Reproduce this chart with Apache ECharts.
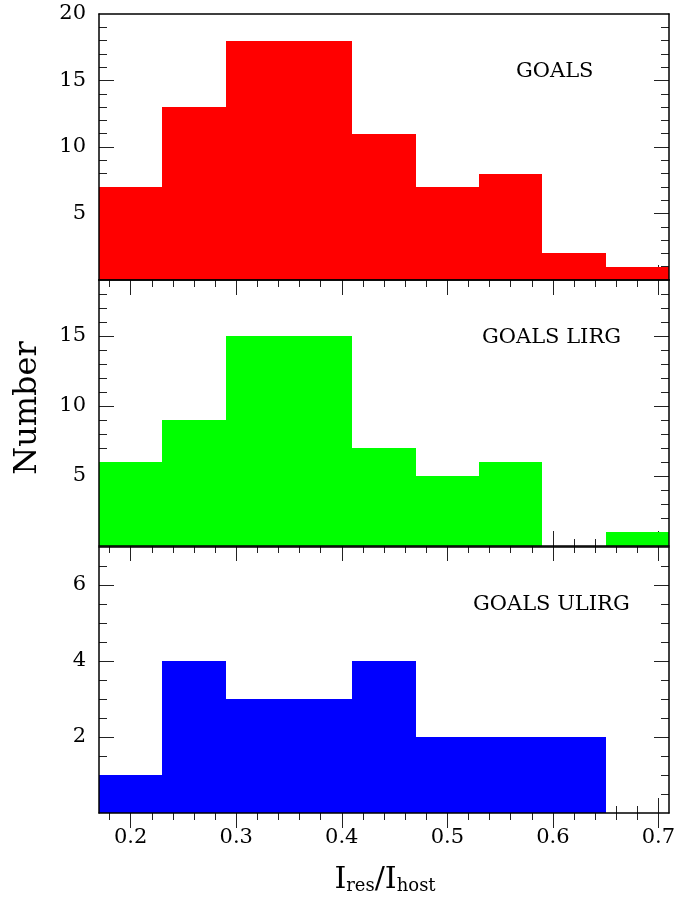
<!DOCTYPE html>
<html>
<head>
<meta charset="utf-8">
<script src="https://cdn.jsdelivr.net/npm/echarts@6/dist/echarts.min.js"></script>
<style>
  html, body { margin: 0; padding: 0; background: #fff; }
  #chart { width: 679px; height: 907px; }
</style>
</head>
<body>
<div id="chart"></div>
<script>
// Histogram bins of I_res / I_host (bin edges) and counts per sample
const binEdges = [0.17, 0.23, 0.29, 0.35, 0.41, 0.47, 0.53, 0.59, 0.65, 0.71];
const goalsCounts = [7, 13, 18, 18, 11, 7, 8, 2, 1];
const lirgCounts = [6, 9, 15, 15, 7, 5, 6, 0, 1];
const ulirgCounts = [1, 4, 3, 3, 4, 2, 2, 2, 0];
const panelNames = ['GOALS', 'GOALS LIRG', 'GOALS ULIRG'];

// Tick positions
const xMajorTicks = [0.2, 0.3, 0.4, 0.5, 0.6, 0.7];
const xMinorTicks = [0.18, 0.2, 0.22, 0.24, 0.26, 0.28, 0.3, 0.32, 0.34, 0.36, 0.38, 0.4,
  0.42, 0.44, 0.46, 0.48, 0.5, 0.52, 0.54, 0.56, 0.58, 0.6, 0.62, 0.64, 0.66, 0.68, 0.7];
const yMaxes = [20, 19, 7];
const yMajorTicks = [[5, 10, 15, 20], [5, 10, 15], [2, 4, 6]];
const yMinorTicks = [
  [1, 2, 3, 4, 5, 6, 7, 8, 9, 10, 11, 12, 13, 14, 15, 16, 17, 18, 19],
  [1, 2, 3, 4, 5, 6, 7, 8, 9, 10, 11, 12, 13, 14, 15, 16, 17, 18],
  [0.5, 1, 1.5, 2, 2.5, 3, 3.5, 4, 4.5, 5, 5.5, 6, 6.5]
];

const panelCounts = [goalsCounts, lirgCounts, ulirgCounts];
const panelColors = ['#ff0000', '#00ff00', '#0000ff'];

const FONT = '"DejaVu Serif", "Liberation Serif", serif';
const X_MIN = binEdges[0], X_MAX = binEdges[binEdges.length - 1];
const panelTops = [14, 280, 547];
const PANEL_H = 266;

const grids = [], xAxes = [], yAxes = [], series = [];

panelTops.forEach((top, g) => {
  grids.push({ left: 99, right: 10, top: top, height: PANEL_H });

  const xBase = { type: 'value', gridIndex: g, min: X_MIN, max: X_MAX, splitLine: { show: false },
    axisLine: { show: false }, axisLabel: { show: false }, offset: 0 };
  const yBase = { type: 'value', gridIndex: g, min: 0, max: yMaxes[g], splitLine: { show: false },
    axisLine: { show: false }, axisLabel: { show: false }, offset: 0 };
  const tickStyle = { color: '#222', width: 1 };

  const xFirst = xAxes.length;
  ['bottom', 'top'].forEach(pos => {
    const isLabelled = pos === 'bottom' && g === 2;
    xAxes.push(Object.assign({}, xBase, {
      position: pos, z: 1,
      axisTick: { show: true, inside: true, length: 15, lineStyle: tickStyle, customValues: xMajorTicks },
      axisLabel: isLabelled ? {
        show: true, customValues: xMajorTicks, margin: 14, color: '#000', fontFamily: FONT, fontSize: 21,
        formatter: v => v.toFixed(1)
      } : { show: false }
    }));
    xAxes.push(Object.assign({}, xBase, {
      position: pos, z: 1,
      axisTick: { show: true, inside: true, length: 7, lineStyle: tickStyle, customValues: xMinorTicks }
    }));
    // frame edge, drawn above the bars
    xAxes.push(Object.assign({}, xBase, {
      position: pos, z: 10,
      axisLine: { show: true, onZero: false, lineStyle: { color: '#000', width: 1.5 } },
      axisTick: { show: false }
    }));
  });

  const yFirst = yAxes.length;
  ['left', 'right'].forEach(pos => {
    yAxes.push(Object.assign({}, yBase, {
      position: pos, z: 1,
      axisTick: { show: true, inside: true, length: 15, lineStyle: tickStyle,
        customValues: yMajorTicks[g].filter(v => v < yMaxes[g]) },
      axisLabel: pos === 'left' ? {
        show: true, customValues: yMajorTicks[g], margin: 13, color: '#000', fontFamily: FONT, fontSize: 21
      } : { show: false }
    }));
    yAxes.push(Object.assign({}, yBase, {
      position: pos, z: 1,
      axisTick: { show: true, inside: true, length: 8, lineStyle: tickStyle, customValues: yMinorTicks[g] }
    }));
    yAxes.push(Object.assign({}, yBase, {
      position: pos, z: 10,
      axisLine: { show: true, onZero: false, lineStyle: { color: '#000', width: 1.5 } },
      axisTick: { show: false }
    }));
  });

  const counts = panelCounts[g];
  const color = panelColors[g];
  const data = counts.map((c, i) => [binEdges[i], binEdges[i + 1], c]);
  series.push({
    type: 'custom',
    xAxisIndex: xFirst,
    yAxisIndex: yFirst,
    z: 5,
    silent: true,
    encode: { x: [0, 1], y: 2 },
    data: data,
    renderItem: (params, api) => {
      const x0 = api.value(0), x1 = api.value(1), y = api.value(2);
      if (!y) return null;
      const pTop = api.coord([x0, y]);
      const pBot = api.coord([x1, 0]);
      const l = Math.round(pTop[0]), r = Math.round(pBot[0]);
      const t = Math.round(pTop[1]), b = Math.round(pBot[1]);
      return {
        type: 'rect',
        shape: { x: l, y: t, width: r - l, height: b - t },
        style: { fill: color }
      };
    }
  });
});

const labelPos = [[516, 72], [482, 338], [473, 605]];

const graphic = panelNames.map((name, i) => ({
  type: 'text', z: 20,
  style: { text: name, x: labelPos[i][0], y: labelPos[i][1], align: 'left', verticalAlign: 'middle',
    fill: '#000', font: '21px ' + FONT }
}));

graphic.push({
  type: 'text', z: 20,
  x: 28, y: 408, rotation: Math.PI / 2,
  style: { text: 'Number', x: 0, y: 0, align: 'center', verticalAlign: 'middle',
    fill: '#000', font: '32px ' + FONT }
});

graphic.push({
  type: 'text', z: 20,
  style: {
    text: '{i|I}{s|res}{i|/I}{s|host}',
    x: 385, y: 880, align: 'center', verticalAlign: 'middle',
    rich: {
      i: { fontFamily: FONT, fontSize: 30, lineHeight: 30, verticalAlign: 'top', fill: '#000', color: '#000' },
      s: { fontFamily: FONT, fontSize: 18, lineHeight: 18, verticalAlign: 'bottom', padding: [18, 0, 0, 0], fill: '#000', color: '#000' }
    }
  }
});

const chart = echarts.init(document.getElementById('chart'), null, { renderer: 'canvas' });
chart.setOption({
  animation: false,
  backgroundColor: '#fff',
  grid: grids,
  xAxis: xAxes,
  yAxis: yAxes,
  series: series,
  graphic: graphic
});
</script>
</body>
</html>
